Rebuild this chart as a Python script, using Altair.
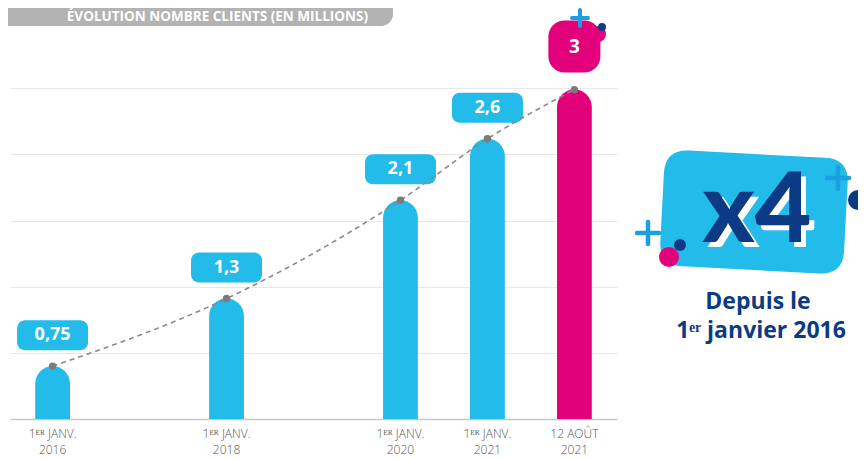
import altair as alt
import pandas as pd

# ---- data ----
categories = ["1ᴱᴿ JANV.|2016", "1ᴱᴿ JANV.|2018", "1ᴱᴿ JANV.|2020", "1ᴱᴿ JANV.|2021", "12 AOÛT|2021"]
clients = [0.75, 1.3, 2.1, 2.6, 3.0]
value_labels = ["0,75", "1,3", "2,1", "2,6", "3"]
kinds = ["base", "base", "base", "base", "actuel"]

df = pd.DataFrame({"slot": categories, "clients": clients, "label": value_labels, "kind": kinds})
one = pd.DataFrame({"k": [0]})

# spacer slots keep the uneven time gaps of the original
x_domain = [categories[0], "·a", categories[1], "·b", categories[2], categories[3], categories[4]]

BLUE = "#22BBEA"
PINK = "#E3007B"
NAVY = "#0C3A85"
PLUS = "#1A9FE0"

OX, OY = 10, 22  # page position of plot origin


def px(x):
    return x - OX


def py(y):
    return y - OY


x_enc = alt.X(
    "slot:N",
    scale=alt.Scale(domain=x_domain, paddingInner=0.6, paddingOuter=0.29),
    sort=None,
    axis=alt.Axis(
        title=None, labelAngle=0, ticks=False, grid=False,
        domainColor="#c8c8c8", domainWidth=1.5,
        labelExpr="indexof(datum.label, '|') >= 0 ? split(datum.label, '|') : ''",
        labelFontSize=12, labelColor="#555555", labelFont="Open Sans", labelFontWeight=300,
        labelPadding=9, labelLineHeight=16, labelBaseline="top",
    ),
)
y_enc = alt.Y(
    "clients:Q",
    scale=alt.Scale(domain=[0.32, 3.55], zero=False, nice=False),
    axis=alt.Axis(
        title=None, labels=False, ticks=False, domain=False,
        values=[0.857, 1.394, 1.931, 2.476, 3.013],
        gridColor="#e8e8e8", gridWidth=1.2,
    ),
)

color_enc = alt.Color("kind:N", scale=alt.Scale(domain=["base", "actuel"], range=[BLUE, PINK]), legend=None)

base = alt.Chart(df)

bars = base.mark_bar(cornerRadiusTopLeft=17.5, cornerRadiusTopRight=17.5).encode(
    x=x_enc, y=y_enc, y2=alt.datum(0.32), color=color_enc
)

blue_pills = base.transform_filter(alt.datum.kind == "base").mark_bar(
    width=71, cornerRadius=8, color=BLUE, yOffset=-46, y2Offset=-16
).encode(x="slot:N", y="clients:Q", y2="clients:Q")

pink_pill = base.transform_filter(alt.datum.kind == "actuel").mark_bar(
    width=52, cornerRadius=16, color=PINK, yOffset=-69, y2Offset=-17
).encode(x="slot:N", y="clients:Q", y2="clients:Q")

trend = base.mark_line(
    interpolate="monotone", strokeDash=[5, 4], color="#8a8a8a", strokeWidth=1.6
).encode(x="slot:N", y="clients:Q")

dots = base.mark_circle(size=55, color="#7b7b7b", opacity=1).encode(x="slot:N", y="clients:Q")

blue_text = base.transform_filter(alt.datum.kind == "base").mark_text(
    color="white", fontSize=18, fontWeight="bold", font="Open Sans", yOffset=-31, baseline="middle"
).encode(x="slot:N", y="clients:Q", text="label:N")

pink_text = base.transform_filter(alt.datum.kind == "actuel").mark_text(
    color="white", fontSize=19, fontWeight="bold", font="Open Sans", yOffset=-43, baseline="middle"
).encode(x="slot:N", y="clients:Q", text="label:N")


def dot(x, y, r, color):
    return alt.Chart(one).mark_point(
        shape="circle", filled=True, size=(2 * r) ** 2, color=color, opacity=1, strokeWidth=0
    ).encode(x=alt.value(px(x)), y=alt.value(py(y)))


def plus(x, y, w, color=PLUS, sw=4.5):
    return alt.Chart(one).mark_point(
        shape="M-1,0L1,0M0,-1L0,1", filled=False, size=w * w, color=color,
        strokeWidth=sw, strokeCap="round", opacity=1
    ).encode(x=alt.value(px(x)), y=alt.value(py(y)))


def text(x, y, t, size, color, weight="bold", align="center", baseline="middle", font="Open Sans"):
    return alt.Chart(one).mark_text(
        text=t, fontSize=size, color=color, fontWeight=weight, align=align, baseline=baseline, font=font
    ).encode(x=alt.value(px(x)), y=alt.value(py(y)))


# title pill
title_pill = alt.Chart(one).mark_rect(cornerRadius=12, color="#b3b3b3").encode(
    x=alt.value(px(-20)), x2=alt.value(px(393)), y=alt.value(py(-12)), y2=alt.value(py(26))
)
title_text = text(368, 17, "ÉVOLUTION NOMBRE CLIENTS (EN MILLIONS)", 13.5, "white", align="right",
                  baseline="middle")

# decorations around the "3" pill
pink_bump = dot(598, 34, 8, PINK)
navy_small = dot(602, 27, 4, NAVY)
plus_small = plus(580, 18, 16, sw=4)

# x4 badge
blob_path = ("M -0.74,-0.63 L 0.74,-0.63 Q 1,-0.63 1,-0.37 L 1,0.37 Q 1,0.63 0.74,0.63 "
             "L -0.74,0.63 Q -1,0.63 -1,0.37 L -1,-0.37 Q -1,-0.63 -0.74,-0.63 Z")
blob = alt.Chart(one).mark_point(
    shape=blob_path, filled=True, size=184 * 184, color=BLUE, opacity=1, strokeWidth=0, angle=3
).encode(x=alt.value(px(754)), y=alt.value(py(212)))

x4_shadow = text(762, 247, "x4", 98, "white", weight=900, baseline="alphabetic", font="Lato")
x4 = text(757, 242, "x4", 98, NAVY, weight=900, baseline="alphabetic", font="Lato")

deco = [
    dot(868, 190, 10, PINK), dot(858, 200, 10, NAVY),
    plus(838, 178, 22), plus(648, 233, 22),
    dot(680, 245, 6, NAVY), dot(669, 257, 10, PINK),
]

since1 = text(758, 302, "Depuis le", 23, NAVY)
since2 = text(761, 331, "1ᵉʳ janvier 2016", 23, NAVY)

chart = alt.layer(
    bars, blue_pills, pink_pill, trend, dots, blue_text, pink_text,
    title_pill, title_text, pink_bump, navy_small, plus_small,
    blob, x4_shadow, x4, *deco, since1, since2,
).properties(
    width=607, height=397,
    autosize=alt.AutoSizeParams(type="none"),
    padding={"left": 2, "top": 14, "right": 241, "bottom": 40},
    background="white",
).configure_view(stroke=None)

chart.save("out.html", embed_options={"renderer": "svg", "actions": False})
